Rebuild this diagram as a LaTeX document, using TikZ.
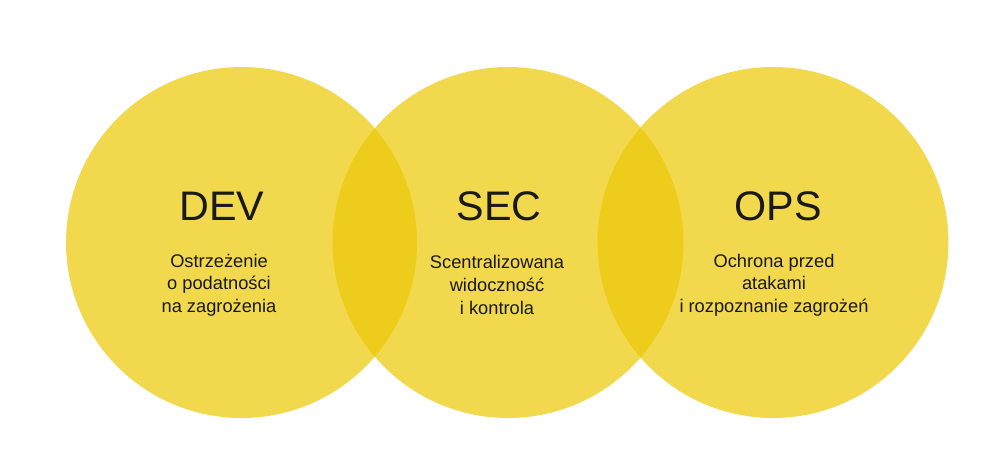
\documentclass[tikz,border=0pt]{standalone}
\usepackage{fontspec}
\setmainfont{Liberation Sans}
\usetikzlibrary{positioning}
\definecolor{circfill}{RGB}{242,216,76}
\definecolor{lensfill}{RGB}{238,204,28}

\begin{document}
\begin{tikzpicture}[
    x=0.02cm, y=-0.02cm,
    circ/.style={
      circle,
      fill=circfill,
      minimum size=7.02cm,
      inner sep=0pt
    },
    title/.style={
      font=\fontsize{23.5}{28}\selectfont,
      text=black!90
    },
    desc/.style={
      align=center,
      font=\fontsize{10.4}{12.9}\selectfont,
      text=black!90
    }
  ]
    \useasboundingbox (0,0) rectangle (1000,476);
    \fill[white] (0,0) rectangle (1000,476);

    \node[circ] (dev) at (241.5,242.5) {};
    \node[circ] (sec) at (508,242.5) {};
    \node[circ] (ops) at (773,242.5) {};

    % overlaps
    \begin{scope}
      \clip (dev.center) circle[radius=3.51cm];
      \fill[lensfill] (sec.center) circle[radius=3.51cm];
    \end{scope}
    \begin{scope}
      \clip (sec.center) circle[radius=3.51cm];
      \fill[lensfill] (ops.center) circle[radius=3.51cm];
    \end{scope}

    \node[title] (devtitle) at (222,206) {DEV};
    \node[title] (sectitle) at (499,206) {SEC};
    \node[title] (opstitle) at (778,206) {OPS};

    \node[desc] (devtext) at (219,285) {Ostrzeżenie\\o podatności\\na zagrożenia};
    \node[desc] (sectext) at (497,285) {Scentralizowana\\widoczność\\i kontrola};
    \node[desc] (opstext) at (774,285) {Ochrona przed\\atakami\\i rozpoznanie zagrożeń};
  \end{tikzpicture}
\end{document}
